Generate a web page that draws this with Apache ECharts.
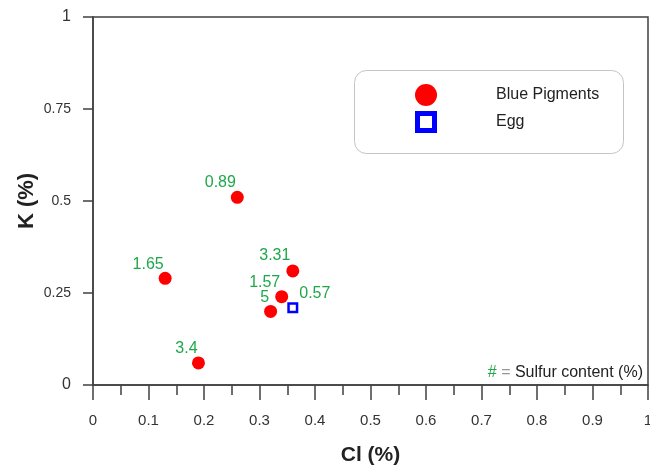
<!DOCTYPE html>
<html>
<head>
<meta charset="utf-8">
<script src="https://cdn.jsdelivr.net/npm/echarts@6/dist/echarts.min.js"></script>
<style>
  html, body { margin: 0; padding: 0; background: #fff; }
  #chart { width: 650px; height: 469px; }
</style>
</head>
<body>
<div id="chart"></div>
<script>
// data
const pigmentCl = [0.26, 0.13, 0.36, 0.34, 0.32, 0.19]
const pigmentK = [0.51, 0.29, 0.31, 0.24, 0.20, 0.06]
const pigmentSulfur = ['0.89', '1.65', '3.31', '1.57', '5', '3.4']
const eggCl = [0.36]
const eggK = [0.21]
const eggSulfur = ['0.57']
const xTicks = [0, 0.1, 0.2, 0.3, 0.4, 0.5, 0.6, 0.7, 0.8, 0.9, 1]
const yTicks = [0, 0.25, 0.5, 0.75, 1]

// where each green label sits relative to its point
const pigmentLabelOffsets = [[-17, -15], [-17, -14], [-18, -15], [-17, -14], [-6, -14], [-12, -14]]
const eggLabelOffsets = [[22, -14]]

const FONT = 'Liberation Sans, Arial, sans-serif'
const GREEN = '#1fa84a'
const AXIS = '#404040'
const squarePath = 'path://M0,0H22V22H0Z M5,5V17H17V5Z'

const toPoints = (xs, ys, labels, offsets) => xs.map((x, i) => ({
  value: [x, ys[i]],
  label: { formatter: labels[i], offset: offsets[i] }
}))

const chart = echarts.init(document.getElementById('chart'))

chart.setOption({
  animation: false,
  textStyle: { fontFamily: FONT },
  grid: {
    left: 93,
    right: 2,
    top: 17,
    bottom: 84,
    outerBoundsMode: 'none',
    containLabel: false,
    show: true,
    borderColor: AXIS,
    borderWidth: 1.5
  },
  xAxis: {
    type: 'value',
    min: xTicks[0],
    max: xTicks[xTicks.length - 1],
    interval: 0.1,
    name: 'Cl (%)',
    nameLocation: 'middle',
    nameGap: 60,
    nameMoveOverlap: false,
    nameTextStyle: { fontSize: 21, fontWeight: 'bold', color: '#222', fontFamily: FONT },
    axisLine: { lineStyle: { color: AXIS, width: 1.5 } },
    axisTick: { inside: false, length: 15, lineStyle: { color: AXIS, width: 1.5 } },
    minorTick: { show: true, splitNumber: 2, length: 10, lineStyle: { color: AXIS, width: 1.5 } },
    axisLabel: { fontSize: 15, color: '#333', margin: 28, fontFamily: FONT },
    splitLine: { show: false }
  },
  yAxis: {
    type: 'value',
    min: yTicks[0],
    max: yTicks[yTicks.length - 1],
    interval: 0.25,
    name: 'K (%)',
    nameLocation: 'middle',
    nameGap: 55,
    nameMoveOverlap: false,
    nameTextStyle: { fontSize: 22, fontWeight: 'bold', color: '#222', fontFamily: FONT },
    axisLine: { lineStyle: { color: AXIS, width: 1.5 } },
    axisTick: { inside: false, length: 10, lineStyle: { color: AXIS, width: 1.5 } },
    axisLabel: {
      fontSize: 14,
      color: '#333',
      margin: 22,
      fontFamily: FONT,
      // the whole-number ends are printed a bit larger in the original
      formatter: v => (v === 0 || v === 1) ? '{big|' + v + '}' : String(v),
      rich: { big: { fontSize: 16, color: '#333', fontFamily: FONT } }
    },
    splitLine: { show: false }
  },
  legend: {
    orient: 'vertical',
    left: 415,
    top: 84,
    padding: 0,
    itemWidth: 22,
    itemHeight: 22,
    itemGap: 5,
    textStyle: { fontSize: 16, color: '#222', fontFamily: FONT, padding: [0, 0, 0, 54] },
    data: [
      { name: 'Blue Pigments', icon: 'circle' },
      { name: 'Egg', icon: squarePath }
    ]
  },
  graphic: [
    {
      type: 'rect',
      left: 352,
      top: 68,
      shape: { width: 269, height: 83, r: 12 },
      style: { fill: 'none', stroke: '#c4c4c4', lineWidth: 1 },
      z: 1
    },
    {
      type: 'text',
      right: 7,
      top: 365,
      style: {
        text: '{g|#} {e|=} Sulfur content (%)',
        font: '16px ' + FONT,
        fill: '#222',
        rich: {
          g: { fill: GREEN, font: '16px ' + FONT },
          e: { fill: '#999', font: '16px ' + FONT }
        }
      },
      z: 10
    }
  ],
  series: [
    {
      name: 'Blue Pigments',
      type: 'scatter',
      symbol: 'circle',
      symbolSize: 13,
      itemStyle: { color: '#ff0000', opacity: 1 },
      label: { show: true, position: 'inside', color: GREEN, fontSize: 16, fontFamily: FONT },
      data: toPoints(pigmentCl, pigmentK, pigmentSulfur, pigmentLabelOffsets)
    },
    {
      name: 'Egg',
      type: 'scatter',
      symbol: squarePath,
      symbolSize: 11,
      itemStyle: { color: '#0000ff', opacity: 1 },
      label: { show: true, position: 'inside', color: GREEN, fontSize: 16, fontFamily: FONT },
      data: toPoints(eggCl, eggK, eggSulfur, eggLabelOffsets)
    }
  ]
})

window.addEventListener('resize', () => chart.resize())
</script>
</body>
</html>
